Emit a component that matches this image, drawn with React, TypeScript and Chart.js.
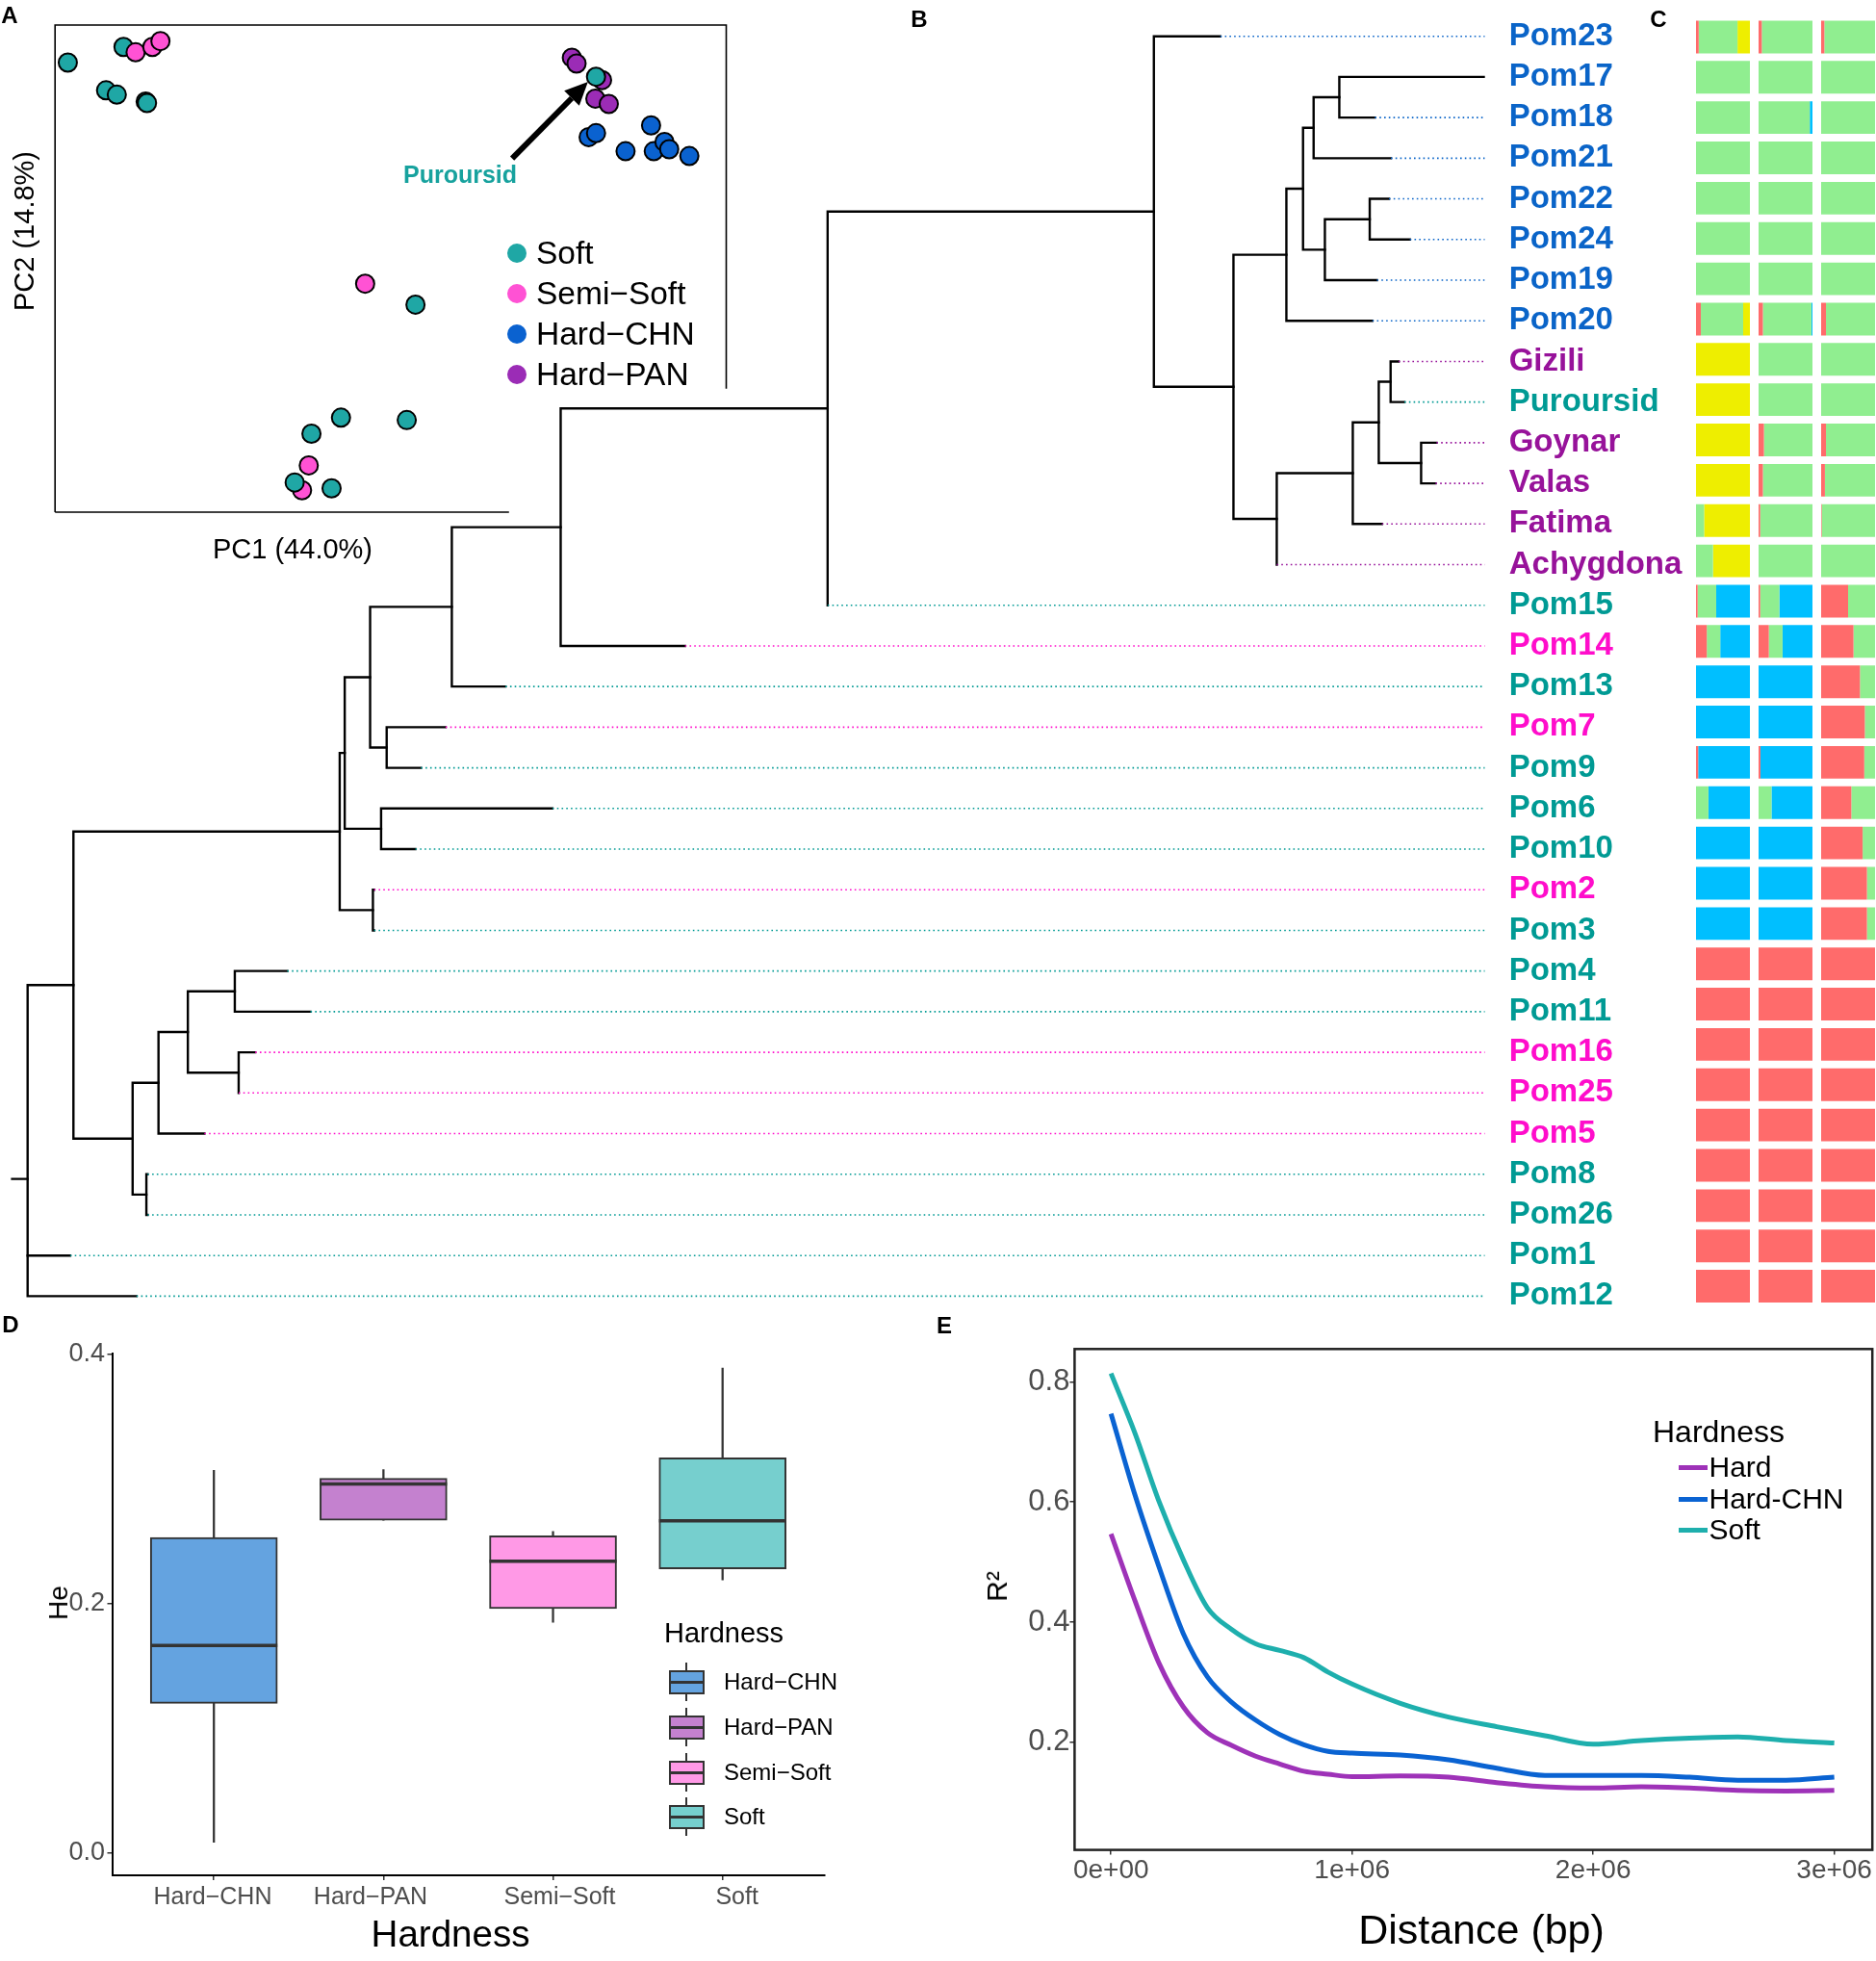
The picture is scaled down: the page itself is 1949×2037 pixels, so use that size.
import React, { useEffect, useRef } from 'react';
import { Chart, registerables } from 'chart.js';

Chart.register(...registerables);

const FONT = '"Liberation Sans", Arial, Helvetica, sans-serif';
const MINUS = '\u2212';
Chart.defaults.font.family = FONT;

// ---------------- Panel A : PCA ----------------
const pcaGroupNames = ['Soft', 'Semi' + MINUS + 'Soft', 'Hard' + MINUS + 'CHN', 'Hard' + MINUS + 'PAN'];
const pcaGroupColors = ['#1FA7A5', '#FF52D4', '#0A62D0', '#9B2CB6'];
// scores in arbitrary PC units (box = 0..100 on both axes), listed in drawing order
const pc1Score = [1.9, 10.2, 12.0, 14.5, 15.7, 7.6, 9.2, 13.5, 13.7, 77.0, 77.7, 81.5, 80.6, 80.5, 82.5, 88.8, 79.5, 80.6, 85.0, 89.2, 90.8, 91.5, 94.5, 46.2, 53.7, 42.6, 52.4, 38.2, 37.8, 36.8, 35.7, 41.2];
const pc2Score = [92.3, 95.5, 94.4, 95.5, 96.7, 86.6, 85.7, 84.3, 84.0, 93.3, 92.1, 88.7, 89.4, 84.9, 83.8, 79.4, 77.0, 77.8, 74.1, 74.1, 76.0, 74.5, 73.1, 46.9, 42.6, 19.4, 18.9, 16.1, 9.6, 4.5, 6.1, 4.9];
const pcaGroup = [0, 0, 1, 1, 1, 0, 0, 0, 0, 3, 3, 3, 0, 3, 3, 2, 2, 2, 2, 2, 2, 2, 2, 1, 0, 0, 0, 0, 1, 1, 0, 0];
const arrowFrom = [68.1, 72.6];
const arrowTo = [79.4, 88.35];

// ---------------- Panel B : tree ----------------
const leafNames = ['Pom23', 'Pom17', 'Pom18', 'Pom21', 'Pom22', 'Pom24', 'Pom19', 'Pom20', 'Gizili', 'Puroursid', 'Goynar', 'Valas', 'Fatima', 'Achygdona', 'Pom15', 'Pom14', 'Pom13', 'Pom7', 'Pom9', 'Pom6', 'Pom10', 'Pom2', 'Pom3', 'Pom4', 'Pom11', 'Pom16', 'Pom25', 'Pom5', 'Pom8', 'Pom26', 'Pom1', 'Pom12'];
const leafGroup = ['C', 'C', 'C', 'C', 'C', 'C', 'C', 'C', 'P', 'S', 'P', 'P', 'P', 'P', 'S', 'M', 'S', 'M', 'S', 'S', 'S', 'M', 'S', 'S', 'S', 'M', 'M', 'M', 'S', 'S', 'S', 'S'];
const leafDepth = [123.93, 151.43, 140.0, 141.66, 141.46, 143.63, 140.2, 139.73, 142.46, 143.06, 146.4, 146.3, 140.73, 129.8, 83.13, 68.31, 49.65, 43.43, 40.87, 54.53, 40.29, 36.0, 36.0, 26.98, 29.39, 23.65, 21.93, 18.37, 12.46, 12.46, 4.42, 11.31];
const treeNodes: [string, number, string[]][] = [
  ['NF', 136.3, ['Pom17', 'Pom18']],
  ['NE', 133.63, ['NF', 'Pom21']],
  ['NH', 139.46, ['Pom22', 'Pom24']],
  ['NG', 134.8, ['NH', 'Pom19']],
  ['ND', 132.53, ['NE', 'NG']],
  ['NC', 130.8, ['ND', 'Pom20']],
  ['NL', 141.63, ['Gizili', 'Puroursid']],
  ['NM', 144.8, ['Goynar', 'Valas']],
  ['NK', 140.4, ['NL', 'NM']],
  ['NJ', 137.7, ['NK', 'Fatima']],
  ['NI', 129.8, ['NJ', 'Achygdona']],
  ['NB', 125.3, ['NC', 'NI']],
  ['NA', 117.03, ['Pom23', 'NB']],
  ['N4', 83.13, ['NA', 'Pom15']],
  ['N2g', 55.39, ['N4', 'Pom14']],
  ['N2f', 44.08, ['N2g', 'Pom13']],
  ['N2e', 37.31, ['Pom7', 'Pom9']],
  ['N2c', 35.59, ['N2f', 'N2e']],
  ['N2d', 36.73, ['Pom6', 'Pom10']],
  ['N2a', 32.95, ['N2c', 'N2d']],
  ['N2b', 35.88, ['Pom2', 'Pom3']],
  ['N2', 32.43, ['N2a', 'N2b']],
  ['N3d', 21.53, ['Pom4', 'Pom11']],
  ['N3e', 21.93, ['Pom16', 'Pom25']],
  ['N3c', 16.65, ['N3d', 'N3e']],
  ['N3a', 13.6, ['N3c', 'Pom5']],
  ['N3b', 12.34, ['Pom8', 'Pom26']],
  ['N3', 10.91, ['N3a', 'N3b']],
  ['N1', 4.76, ['N2', 'N3']],
  ['root', 0, ['N1', 'Pom1', 'Pom12']],
];
const rootStubDepth = -1.61;
const treeTipEnd = 151.43;
const groupLabelColor: Record<string, string> = { C: '#0A64C8', P: '#97129A', S: '#009A94', M: '#FF0DCB' };

// ---------------- Panel C : admixture ----------------
const k1Red = [0.05, 0, 0, 0, 0, 0, 0, 0.09, 0, 0, 0, 0, 0, 0, 0.03, 0.2, 0, 0, 0.04, 0, 0, 0, 0, 1, 1, 1, 1, 1, 1, 1, 1, 1];
const k1Green = [0.72, 1, 1, 1, 1, 1, 1, 0.785, 0, 0, 0, 0, 0.15, 0.315, 0.345, 0.25, 0, 0, 0, 0.23, 0, 0, 0, 0, 0, 0, 0, 0, 0, 0, 0, 0];
const k1Blue = [0, 0, 0, 0, 0, 0, 0, 0, 0, 0, 0, 0, 0, 0, 0.625, 0.55, 1, 1, 0.96, 0.77, 1, 1, 1, 0, 0, 0, 0, 0, 0, 0, 0, 0];
const k1Yellow = [0.23, 0, 0, 0, 0, 0, 0, 0.125, 1, 1, 1, 1, 0.85, 0.685, 0, 0, 0, 0, 0, 0, 0, 0, 0, 0, 0, 0, 0, 0, 0, 0, 0, 0];
const k2Red = [0.06, 0, 0, 0, 0, 0, 0, 0.08, 0, 0, 0.1, 0.08, 0.03, 0, 0.03, 0.19, 0, 0, 0.035, 0, 0, 0, 0, 1, 1, 1, 1, 1, 1, 1, 1, 1];
const k2Green = [0.94, 1, 0.95, 1, 1, 1, 1, 0.9, 1, 1, 0.9, 0.92, 0.97, 1, 0.355, 0.255, 0, 0, 0, 0.24, 0, 0, 0, 0, 0, 0, 0, 0, 0, 0, 0, 0];
const k2Blue = [0, 0, 0.05, 0, 0, 0, 0, 0.02, 0, 0, 0, 0, 0, 0, 0.615, 0.555, 1, 1, 0.965, 0.76, 1, 1, 1, 0, 0, 0, 0, 0, 0, 0, 0, 0];
const k3Red = [0.06, 0, 0, 0, 0, 0, 0, 0.09, 0, 0, 0.09, 0.07, 0.01, 0, 0.5, 0.6, 0.72, 0.81, 0.8, 0.56, 0.77, 0.85, 0.85, 1, 1, 1, 1, 1, 1, 1, 1, 1];
const k3Green = [0.94, 1, 1, 1, 1, 1, 1, 0.91, 1, 1, 0.91, 0.93, 0.99, 1, 0.5, 0.4, 0.28, 0.19, 0.2, 0.44, 0.23, 0.15, 0.15, 0, 0, 0, 0, 0, 0, 0, 0, 0];
const admixColors = { red: '#FF6B6B', green: '#90EE90', blue: '#00BFFF', yellow: '#EEEE00' };

// ---------------- Panel D : He boxplot ----------------
const heCats = ['Hard' + MINUS + 'CHN', 'Hard' + MINUS + 'PAN', 'Semi' + MINUS + 'Soft', 'Soft'];
const heColors = ['#64A3E0', '#C481CF', '#FF99E6', '#76CFCE'];
const heMin = [0.0085, 0.267, 0.185, 0.219];
const heQ1 = [0.12, 0.267, 0.196, 0.228];
const heMed = [0.1665, 0.296, 0.234, 0.2665];
const heQ3 = [0.253, 0.3005, 0.2545, 0.317];
const heMax = [0.307, 0.3076, 0.258, 0.389];
const heTicks = [0, 0.2, 0.4];
const heLabelX = [221, 385, 581.5, 765.7];

// ---------------- Panel E : LD decay ----------------
const ldDistance = [0, 1e5, 2e5, 3e5, 4e5, 5e5, 6e5, 7e5, 8e5, 9e5, 1e6, 1.2e6, 1.4e6, 1.6e6, 1.8e6, 2.0e6, 2.2e6, 2.4e6, 2.6e6, 2.8e6, 3.0e6];
const ldSoft = [0.814, 0.714, 0.6, 0.504, 0.424, 0.388, 0.364, 0.353, 0.341, 0.317, 0.297, 0.265, 0.242, 0.226, 0.211, 0.197, 0.203, 0.207, 0.209, 0.203, 0.199];
const ldHardChn = [0.747, 0.611, 0.491, 0.381, 0.309, 0.267, 0.237, 0.213, 0.196, 0.185, 0.182, 0.179, 0.171, 0.157, 0.145, 0.145, 0.145, 0.142, 0.137, 0.137, 0.142];
const ldHard = [0.547, 0.435, 0.331, 0.259, 0.216, 0.195, 0.177, 0.164, 0.152, 0.147, 0.143, 0.144, 0.142, 0.133, 0.126, 0.124, 0.126, 0.124, 0.12, 0.119, 0.12];
const ldNames = ['Hard', 'Hard-CHN', 'Soft'];
const ldColors = ['#9E32B8', '#0A63D2', '#1EAFAD'];
const ldXTicks = [0, 1e6, 2e6, 3e6];
const ldYTicks = [0.2, 0.4, 0.6, 0.8];

// ---------------- chart factories ----------------
const base = { animation: false as const, responsive: false, events: [] as any[], plugins: { legend: { display: false }, tooltip: { enabled: false } } };

function makePca(): any {
  return {
    type: 'scatter',
    data: {
      datasets: [{
        data: pc1Score.map((x, i) => ({ x, y: pc2Score[i] })),
        backgroundColor: pcaGroup.map((g) => pcaGroupColors[g]),
        borderColor: '#000',
        borderWidth: 2,
        pointRadius: 9.5,
        clip: false,
      }],
    },
    options: {
      ...base,
      layout: { padding: { left: 57.2, top: 26, right: 11.4, bottom: 68 } },
      scales: { x: { type: 'linear', min: 0, max: 100, display: false }, y: { type: 'linear', min: 0, max: 100, display: false } },
    },
    plugins: [{
      id: 'pcaFrame',
      beforeDatasetsDraw(chart: any) {
        const { left, top, right, bottom } = chart.chartArea;
        const ctx = chart.ctx;
        ctx.save();
        ctx.strokeStyle = '#000';
        ctx.lineWidth = 1.6;
        ctx.beginPath();
        ctx.moveTo(left, bottom); ctx.lineTo(left, top); ctx.lineTo(right, top); ctx.lineTo(right, 403.7);
        ctx.moveTo(left, bottom); ctx.lineTo(528.8, bottom);
        ctx.stroke();
        ctx.restore();
      },
      afterDatasetsDraw(chart: any) {
        const xs = chart.scales.x, ys = chart.scales.y, ctx = chart.ctx;
        const x0 = xs.getPixelForValue(arrowFrom[0]), y0 = ys.getPixelForValue(arrowFrom[1]);
        const x1 = xs.getPixelForValue(arrowTo[0]), y1 = ys.getPixelForValue(arrowTo[1]);
        const a = Math.atan2(y1 - y0, x1 - x0), hl = 24, hw = 11;
        const bx = x1 - hl * Math.cos(a), by = y1 - hl * Math.sin(a);
        ctx.save();
        ctx.strokeStyle = '#000'; ctx.fillStyle = '#000'; ctx.lineWidth = 6;
        ctx.beginPath(); ctx.moveTo(x0, y0); ctx.lineTo(bx, by); ctx.stroke();
        ctx.beginPath(); ctx.moveTo(x1, y1);
        ctx.lineTo(bx + hw * Math.sin(a), by - hw * Math.cos(a));
        ctx.lineTo(bx - hw * Math.sin(a), by + hw * Math.cos(a));
        ctx.closePath(); ctx.fill();
        ctx.restore();
      },
    }],
  };
}

function makeTree(): any {
  const yOf: Record<string, number> = {};
  const dOf: Record<string, number> = {};
  leafNames.forEach((n, i) => { yOf[n] = i; dOf[n] = leafDepth[i]; });
  treeNodes.forEach(([id, d, ch]) => { dOf[id] = d; yOf[id] = ch.reduce((s, c) => s + yOf[c], 0) / ch.length; });
  const datasets: any[] = [];
  const branch = (pts: { x: number; y: number }[]) => datasets.push({
    data: pts, showLine: true, pointRadius: 0, borderColor: '#000', borderWidth: 2.4,
    borderCapStyle: 'square', borderJoinStyle: 'miter', tension: 0,
  });
  leafNames.forEach((n, i) => {
    if (leafDepth[i] < treeTipEnd - 0.01) {
      datasets.push({
        data: [{ x: leafDepth[i], y: i }, { x: treeTipEnd, y: i }], showLine: true, pointRadius: 0,
        borderColor: groupLabelColor[leafGroup[i]], borderWidth: 1.6, borderDash: [1.6, 3.2], borderCapStyle: 'butt',
      });
    }
  });
  treeNodes.forEach(([id, d, ch]) => {
    const f = ch[0], l = ch[ch.length - 1];
    branch([{ x: dOf[f], y: yOf[f] }, { x: d, y: yOf[f] }, { x: d, y: yOf[l] }, { x: dOf[l], y: yOf[l] }]);
    ch.slice(1, -1).forEach((c) => branch([{ x: d, y: yOf[c] }, { x: dOf[c], y: yOf[c] }]));
  });
  branch([{ x: rootStubDepth, y: yOf.root }, { x: 0, y: yOf.root }]);
  return {
    type: 'scatter',
    data: { datasets },
    options: {
      ...base,
      layout: { padding: { left: 0, top: 16.6, right: 0, bottom: 12.5 } },
      scales: {
        x: { type: 'linear', min: -2.87, max: treeTipEnd, display: false },
        y: {
          type: 'linear', min: -0.5, max: 31.5, reverse: true, position: 'right',
          grid: { display: false, drawTicks: false }, border: { display: false },
          afterBuildTicks: (s: any) => { s.ticks = leafNames.map((_, i) => ({ value: i })); },
          afterFit: (s: any) => { s.width = 217.3; s.paddingTop = 0; s.paddingBottom = 0; },
          ticks: {
            autoSkip: false, padding: 25,
            font: { family: FONT, size: 33, weight: 'bold' },
            color: (c: any) => groupLabelColor[leafGroup[c.tick ? c.tick.value : c.index]],
            callback: (v: any) => leafNames[v],
          },
        },
      },
    },
  };
}

function makeAdmix(parts: { data: number[]; color: string }[]) {
  return (): any => ({
    type: 'bar',
    data: {
      labels: leafNames,
      datasets: parts.map((p) => ({ data: p.data, backgroundColor: p.color, borderWidth: 0, barPercentage: 0.81, categoryPercentage: 1 })),
    },
    options: {
      ...base,
      indexAxis: 'y',
      layout: { padding: { left: 0, top: 17.5, right: 0, bottom: 23 } },
      scales: { x: { stacked: true, min: 0, max: 1, display: false }, y: { stacked: true, display: false } },
    },
  });
}
const admixMakers = [
  makeAdmix([{ data: k1Red, color: admixColors.red }, { data: k1Green, color: admixColors.green }, { data: k1Blue, color: admixColors.blue }, { data: k1Yellow, color: admixColors.yellow }]),
  makeAdmix([{ data: k2Red, color: admixColors.red }, { data: k2Green, color: admixColors.green }, { data: k2Blue, color: admixColors.blue }]),
  makeAdmix([{ data: k3Red, color: admixColors.red }, { data: k3Green, color: admixColors.green }]),
];
const admixLeft = [1762, 1827, 1892];

function makeHe(): any {
  return {
    type: 'bar',
    data: {
      datasets: [
        { data: heCats.map((_, i) => ({ x: i + 1, y: [heMin[i], heMax[i]] })), backgroundColor: '#333', barThickness: 1.6, grouped: false, order: 2 },
        { data: heCats.map((_, i) => ({ x: i + 1, y: [heQ1[i], heQ3[i]] })), backgroundColor: heColors, borderColor: '#333', borderWidth: 2, borderSkipped: false, barThickness: 132, grouped: false, order: 1 },
      ],
    },
    options: {
      ...base,
      layout: { padding: { left: 0, top: 25.6, right: 23.6, bottom: 32 } },
      scales: {
        x: {
          type: 'linear', min: 0.4, max: 4.6, offset: false,
          afterBuildTicks: (s: any) => { s.ticks = heCats.map((_, i) => ({ value: i + 1 })); },
          afterFit: (s: any) => { s.height = 40; },
          ticks: { display: false },
          grid: { offset: false, drawOnChartArea: false, drawTicks: true, tickLength: 5, color: '#333', lineWidth: 1.5 },
          border: { display: true, color: '#000', width: 2 },
        },
        y: {
          type: 'linear', min: -0.018, max: 0.401,
          afterBuildTicks: (s: any) => { s.ticks = heTicks.map((value) => ({ value })); },
          afterFit: (s: any) => { s.width = 116.5; },
          ticks: { callback: (v: any) => Number(v).toFixed(1), font: { family: FONT, size: 27 }, color: '#4D4D4D', padding: 2.5 },
          grid: { drawOnChartArea: false, drawTicks: true, tickLength: 5, color: '#333', lineWidth: 1.5 },
          border: { display: true, color: '#000', width: 2 },
        },
      },
    },
    plugins: [{
      id: 'medians',
      afterDatasetsDraw(chart: any) {
        const ys = chart.scales.y, ctx = chart.ctx;
        const meta = chart.getDatasetMeta(1);
        ctx.save();
        ctx.strokeStyle = '#333'; ctx.lineWidth = 3.5;
        meta.data.forEach((el: any, i: number) => {
          const { x, width } = el.getProps(['x', 'width'], true);
          const y = ys.getPixelForValue(heMed[i]);
          ctx.beginPath(); ctx.moveTo(x - width / 2, y); ctx.lineTo(x + width / 2, y); ctx.stroke();
        });
        ctx.restore();
      },
    }],
  };
}

function makeLd(): any {
  const series = [ldHard, ldHardChn, ldSoft];
  return {
    type: 'line',
    data: {
      datasets: series.map((vals, k) => ({
        label: ldNames[k],
        data: ldDistance.map((x, i) => ({ x, y: vals[i] })),
        borderColor: ldColors[k], borderWidth: 5, pointRadius: 0, fill: false,
        cubicInterpolationMode: 'monotone', borderCapStyle: 'butt',
      })),
    },
    options: {
      ...base,
      layout: { padding: { left: 0, top: 21.3, right: 3.8, bottom: 70.4 } },
      scales: {
        x: {
          type: 'linear', min: -151000, max: 3158000,
          afterBuildTicks: (s: any) => { s.ticks = ldXTicks.map((value) => ({ value })); },
          afterFit: (s: any) => { s.height = 45; },
          ticks: {
            callback: (v: any) => (v === 0 ? '0e+00' : `${Math.round(v / 1e6)}e+06`),
            font: { family: FONT, size: 28 }, color: '#4D4D4D', padding: 0, maxRotation: 0, autoSkip: false,
          },
          grid: { drawOnChartArea: false, drawTicks: true, tickLength: 5, color: '#333', lineWidth: 1.5 },
          border: { display: false },
        },
        y: {
          type: 'linear', min: 0.021, max: 0.8546,
          afterBuildTicks: (s: any) => { s.ticks = ldYTicks.map((value) => ({ value })); },
          afterFit: (s: any) => { s.width = 136.4; },
          ticks: { callback: (v: any) => Number(v).toFixed(1), font: { family: FONT, size: 31 }, color: '#4D4D4D', padding: 0 },
          grid: { drawOnChartArea: false, drawTicks: true, tickLength: 5, color: '#333', lineWidth: 1.5 },
          border: { display: false },
        },
      },
    },
    plugins: [{
      id: 'frame',
      afterDraw(chart: any) {
        const { left, top, right, bottom } = chart.chartArea;
        const ctx = chart.ctx;
        ctx.save(); ctx.strokeStyle = '#222'; ctx.lineWidth = 2.5;
        ctx.strokeRect(left, top, right - left, bottom - top);
        ctx.restore();
      },
    }],
  };
}

// ---------------- React helpers ----------------
function ChartCanvas({ make, left, top, width, height }: { make: () => any; left: number; top: number; width: number; height: number }) {
  const ref = useRef<HTMLCanvasElement | null>(null);
  useEffect(() => {
    if (!ref.current) return;
    const chart = new Chart(ref.current, make());
    return () => chart.destroy();
  }, [make]);
  return <canvas ref={ref} width={width} height={height} style={{ position: 'absolute', left, top, width, height }} />;
}

function T({ x, y, size, children, weight = 'normal', color = '#000', rotate = false, align = 'center' }:
  { x: number; y: number; size: number; children: React.ReactNode; weight?: string; color?: string; rotate?: boolean; align?: 'center' | 'left' }) {
  const tx = align === 'center' ? '-50%' : '0';
  return (
    <div style={{
      position: 'absolute', left: x, top: y, fontSize: size, fontWeight: weight as any, color, lineHeight: 1,
      whiteSpace: 'nowrap', fontFamily: FONT, transform: `translate(${tx},-50%)${rotate ? ' rotate(-90deg)' : ''}`,
    }}>{children}</div>
  );
}

const pcaLegendRows = [263, 305, 347, 389];
const heLegendRows = [1747, 1794, 1841, 1887];
const ldLegendRows = [1524, 1557, 1589];

export default function App() {
  useEffect(() => { document.body.style.margin = '0'; }, []);
  return (
    <div style={{ position: 'relative', width: 1949, height: 2037, background: '#fff', overflow: 'hidden', fontFamily: FONT }}>
      <ChartCanvas make={makePca} left={0} top={0} width={766} height={600} />
      <ChartCanvas make={makeTree} left={0} top={0} width={1760} height={1380} />
      {admixMakers.map((m, k) => <ChartCanvas key={k} make={m} left={admixLeft[k]} top={0} width={56} height={1380} />)}
      <ChartCanvas make={makeHe} left={0} top={1380} width={880} height={640} />
      <ChartCanvas make={makeLd} left={980} top={1380} width={969} height={657} />

      {/* panel letters */}
      <T x={10} y={16} size={24} weight="bold">A</T>
      <T x={955} y={20} size={24} weight="bold">B</T>
      <T x={1723} y={20} size={24} weight="bold">C</T>
      <T x={11} y={1376} size={24} weight="bold">D</T>
      <T x={981} y={1377} size={24} weight="bold">E</T>

      {/* Panel A text */}
      <T x={25} y={240} size={29} rotate>PC2 (14.8%)</T>
      <T x={304} y={570} size={29}>PC1 (44.0%)</T>
      <T x={478} y={181} size={25} weight="bold" color="#17A29E">Puroursid</T>
      {pcaGroupNames.map((g, i) => (
        <React.Fragment key={g}>
          <div style={{ position: 'absolute', left: 527, top: pcaLegendRows[i] - 10, width: 20, height: 20, borderRadius: '50%', background: pcaGroupColors[i] }} />
          <T x={557} y={pcaLegendRows[i]} size={33.5} align="left">{g}</T>
        </React.Fragment>
      ))}

      {/* Panel D text */}
      {heCats.map((c, i) => <T key={'xl' + c} x={heLabelX[i]} y={1969} size={25} color="#4D4D4D">{c}</T>)}
      <T x={61} y={1665} size={28} rotate>He</T>
      <T x={468} y={2009} size={38.5}>Hardness</T>
      <T x={690} y={1696} size={29} align="left">Hardness</T>
      {heCats.map((c, i) => (
        <React.Fragment key={c}>
          <div style={{ position: 'absolute', left: 712, top: heLegendRows[i] - 20, width: 2, height: 40, background: '#333' }} />
          <div style={{ position: 'absolute', left: 694.5, top: heLegendRows[i] - 12.5, width: 37, height: 25, background: heColors[i], border: '2.5px solid #333', boxSizing: 'border-box' }} />
          <div style={{ position: 'absolute', left: 694.5, top: heLegendRows[i] - 1.5, width: 37, height: 3, background: '#333' }} />
          <T x={752} y={heLegendRows[i]} size={24} align="left">{c}</T>
        </React.Fragment>
      ))}

      {/* Panel E text */}
      <T x={1036} y={1648} size={30} rotate>R²</T>
      <T x={1539} y={2004} size={43}>Distance (bp)</T>
      <T x={1717} y={1487} size={32} align="left">Hardness</T>
      {ldNames.map((n, i) => (
        <React.Fragment key={n}>
          <div style={{ position: 'absolute', left: 1744, top: ldLegendRows[i] - 2.5, width: 30, height: 5, background: ldColors[i] }} />
          <T x={1775.5} y={ldLegendRows[i]} size={30} align="left">{n}</T>
        </React.Fragment>
      ))}
    </div>
  );
}
